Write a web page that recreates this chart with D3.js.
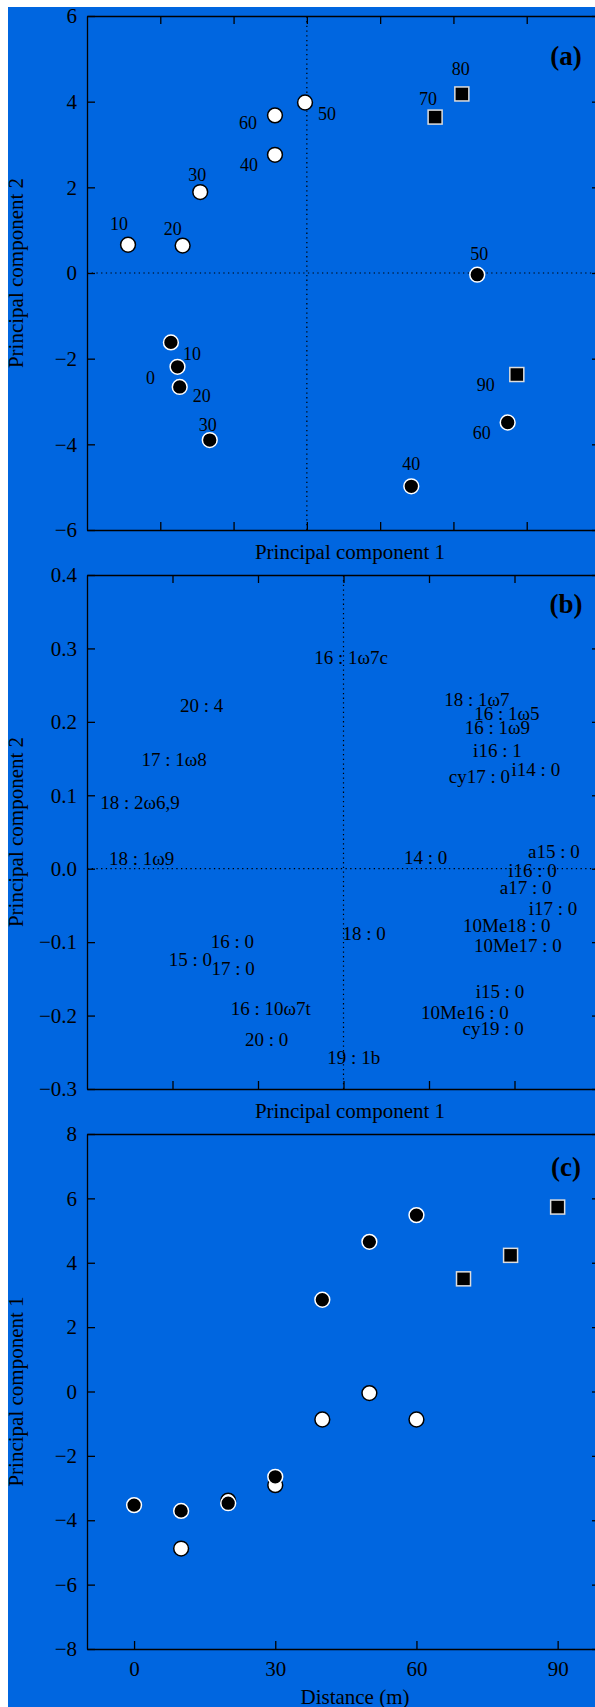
<!DOCTYPE html>
<html>
<head>
<meta charset="utf-8">
<script src="https://cdn.jsdelivr.net/npm/d3@7"></script>
<style>
  body { margin: 0; background: #fff; }
  svg { display: block; font-family: "Liberation Serif", "Times New Roman", serif; }
</style>
</head>
<body>
<svg id="chart" width="595" height="1707"></svg>
<script>
// sample scores, split by symbol group (distance in m)
const openDist = [10, 20, 30, 40, 50, 60];
const openPC1 = [-4.88, -3.39, -2.91, -0.87, -0.05, -0.87];
const openPC2 = [0.66, 0.64, 1.89, 2.76, 3.98, 3.68];

const filledDist = [0, 10, 20, 30, 40, 50, 60];
const filledPC1 = [-3.53, -3.71, -3.47, -2.65, 2.85, 4.65, 5.48];
const filledPC2 = [-2.19, -1.62, -2.66, -3.90, -4.98, -0.04, -3.49];

const squareDist = [70, 80, 90];
const squarePC1 = [3.50, 4.23, 5.73];
const squarePC2 = [3.64, 4.18, -2.37];

// fatty acid loadings, panel (b)
const fattyAcids = ["16 : 1ω7c", "20 : 4", "18 : 1ω7", "16 : 1ω5", "16 : 1ω9", "17 : 1ω8",
  "i16 : 1", "i14 : 0", "cy17 : 0", "18 : 2ω6,9", "18 : 1ω9", "14 : 0", "a15 : 0",
  "i16 : 0", "a17 : 0", "i17 : 0", "10Me18 : 0", "18 : 0", "16 : 0", "10Me17 : 0",
  "15 : 0", "17 : 0", "i15 : 0", "16 : 10ω7t", "10Me16 : 0", "cy19 : 0", "20 : 0", "19 : 1b"];
const loadPC1 = [0.009, -0.166, 0.156, 0.191, 0.180, -0.198,
  0.180, 0.225, 0.159, -0.238, -0.236, 0.096, 0.246,
  0.221, 0.213, 0.245, 0.191, 0.024, -0.130, 0.204,
  -0.179, -0.129, 0.183, -0.085, 0.142, 0.175, -0.090, 0.012];
const loadPC2 = [0.288, 0.223, 0.230, 0.212, 0.193, 0.149,
  0.161, 0.136, 0.126, 0.091, 0.014, 0.015, 0.023,
  -0.002, -0.026, -0.054, -0.077, -0.088, -0.099, -0.104,
  -0.124, -0.136, -0.167, -0.190, -0.195, -0.217, -0.232, -0.257];

// ticks
const scoreTicks = [-6, -4, -2, 0, 2, 4, 6];
const scoreXTicks = [-4, -2, 0, 2, 4, 6];
const loadYTicks = [-0.3, -0.2, -0.1, 0, 0.1, 0.2, 0.3, 0.4];
const loadXTicks = [-0.2, -0.1, 0, 0.1, 0.2];
const pc1Ticks = [-8, -6, -4, -2, 0, 2, 4, 6, 8];
const distTicks = [0, 30, 60, 90];

// label nudges for panel (a), px from the marker
const labelOff = {
  open: {10: [-9, -21], 20: [-10, -17], 30: [-3, -17], 40: [-26, 10], 50: [22, 11], 60: [-27, 7]},
  filled: {0: [-27, 11], 10: [21, 11], 20: [22, 9], 30: [-2, -15], 40: [0, -23], 50: [2, -21], 60: [-26, 10]},
  square: {70: [-7, -18], 80: [-1, -25], 90: [-31, 10]}
};

const blue = "#0066e0";
const serif = "'Liberation Serif', 'Times New Roman', serif";
const left = 87, right = 600, tick = 8;
const svg = d3.select("#chart");

svg.append("rect").attr("x", 8).attr("y", 7).attr("width", 595).attr("height", 1707).attr("fill", blue);

const groups = [
  {key: "open", dist: openDist, pc1: openPC1, pc2: openPC2, fill: "#fff", stroke: "#000", shape: "circle"},
  {key: "filled", dist: filledDist, pc1: filledPC1, pc2: filledPC2, fill: "#000", stroke: "#fff", shape: "circle"},
  {key: "square", dist: squareDist, pc1: squarePC1, pc2: squarePC2, fill: "#000", stroke: "#ddd", shape: "square"}
];

function axes(x, y, o) {
  const g = svg.append("g");
  const [y0, y1] = y.range();
  const style = sel => {
    sel.attr("font-size", 21).attr("font-family", serif);
    sel.selectAll("path,line").attr("stroke", "#000").attr("stroke-width", 1.3);
    sel.selectAll("text").attr("fill", "#000");
  };
  g.append("g").attr("transform", `translate(0,${y0})`)
    .call(d3.axisBottom(x).tickValues(o.xTicks).tickSize(-tick).tickSizeOuter(0).tickPadding(12)
      .tickFormat(o.xFormat || (() => ""))).call(style);
  g.append("g").attr("transform", `translate(0,${y1})`)
    .call(d3.axisTop(x).tickValues(o.topTicks ? o.xTicks : []).tickSize(-tick).tickSizeOuter(0).tickFormat(() => "")).call(style);
  g.append("g").attr("transform", `translate(${left},0)`)
    .call(d3.axisLeft(y).tickValues(o.yTicks).tickSize(-tick).tickSizeOuter(0).tickPadding(10).tickFormat(o.yFormat)).call(style);
  g.append("g").attr("transform", `translate(${right},0)`)
    .call(d3.axisRight(y).tickValues(o.yTicks).tickSize(-tick).tickSizeOuter(0).tickFormat(() => "")).call(style);

  if (o.zeroLines) {
    const z = g.append("g").attr("stroke", "#000").attr("stroke-width", 1.2).attr("stroke-dasharray", "1.3,3.4");
    z.append("line").attr("x1", left).attr("x2", right).attr("y1", y(0)).attr("y2", y(0));
    z.append("line").attr("x1", x(0)).attr("x2", x(0)).attr("y1", y0).attr("y2", y1);
  }

  svg.append("text").attr("transform", `translate(23,${(y0 + y1) / 2}) rotate(-90)`)
    .attr("text-anchor", "middle").attr("font-size", 21).text(o.yTitle);
  svg.append("text").attr("x", o.xTitleX).attr("y", o.xTitleY)
    .attr("text-anchor", "middle").attr("font-size", 21).text(o.xTitle);
  svg.append("text").attr("x", 566).attr("y", o.tagY)
    .attr("text-anchor", "middle").attr("font-size", 27).attr("font-weight", "bold").text(o.tag);
}

function markers(g, data, x, y, group) {
  const sel = g.selectAll(null).data(data).join(group.shape === "circle" ? "circle" : "rect")
    .attr("fill", group.fill).attr("stroke", group.stroke).attr("stroke-width", 1.5);
  if (group.shape === "circle") {
    sel.attr("cx", d => x(d.x)).attr("cy", d => y(d.y)).attr("r", 7.4);
  } else {
    sel.attr("x", d => x(d.x) - 7).attr("y", d => y(d.y) - 7).attr("width", 14).attr("height", 14);
  }
}

// ---- (a) score plot ----
{
  const x = d3.scaleLinear().domain([-6, 8]).range([left, right]);
  const y = d3.scaleLinear().domain([-6, 6]).range([530, 16]);
  axes(x, y, {xTicks: scoreXTicks, yTicks: scoreTicks, yFormat: d3.format("d"), topTicks: true, zeroLines: true,
    yTitle: "Principal component 2", xTitle: "Principal component 1", xTitleX: 350, xTitleY: 559, tag: "(a)", tagY: 65});
  const g = svg.append("g");
  groups.forEach(gr => {
    const data = gr.dist.map((d, i) => ({dist: d, x: gr.pc1[i], y: gr.pc2[i]}));
    markers(g, data, x, y, gr);
    g.selectAll(null).data(data).join("text")
      .attr("x", d => x(d.x) + labelOff[gr.key][d.dist][0])
      .attr("y", d => y(d.y) + labelOff[gr.key][d.dist][1])
      .attr("dy", "0.35em").attr("text-anchor", "middle").attr("font-size", 18)
      .text(d => d.dist);
  });
}

// ---- (b) loadings ----
{
  const x = d3.scaleLinear().domain([-0.3, 0.3]).range([left, right]);
  const y = d3.scaleLinear().domain([-0.3, 0.4]).range([1089, 575]);
  axes(x, y, {xTicks: loadXTicks, yTicks: loadYTicks, yFormat: d3.format(".1f"), topTicks: true, zeroLines: true,
    yTitle: "Principal component 2", xTitle: "Principal component 1", xTitleX: 350, xTitleY: 1118, tag: "(b)", tagY: 613});
  svg.append("g").selectAll("text").data(fattyAcids).join("text")
    .attr("x", (d, i) => x(loadPC1[i])).attr("y", (d, i) => y(loadPC2[i]))
    .attr("dy", "0.35em").attr("text-anchor", "middle").attr("font-size", 19)
    .text(d => d);
}

// ---- (c) PC1 vs distance ----
{
  const x = d3.scaleLinear().domain([-10, 99]).range([left, right]);
  const y = d3.scaleLinear().domain([-8, 8]).range([1649, 1134]);
  axes(x, y, {xTicks: distTicks, xFormat: d3.format("d"), yTicks: pc1Ticks, yFormat: d3.format("d"), topTicks: false,
    yTitle: "Principal component 1", xTitle: "Distance (m)", xTitleX: 355, xTitleY: 1704, tag: "(c)", tagY: 1176});
  const g = svg.append("g");
  groups.forEach(gr => {
    const data = gr.dist.map((d, i) => ({x: d, y: gr.pc1[i]}));
    markers(g, data, x, y, gr);
  });
}
</script>
</body>
</html>
